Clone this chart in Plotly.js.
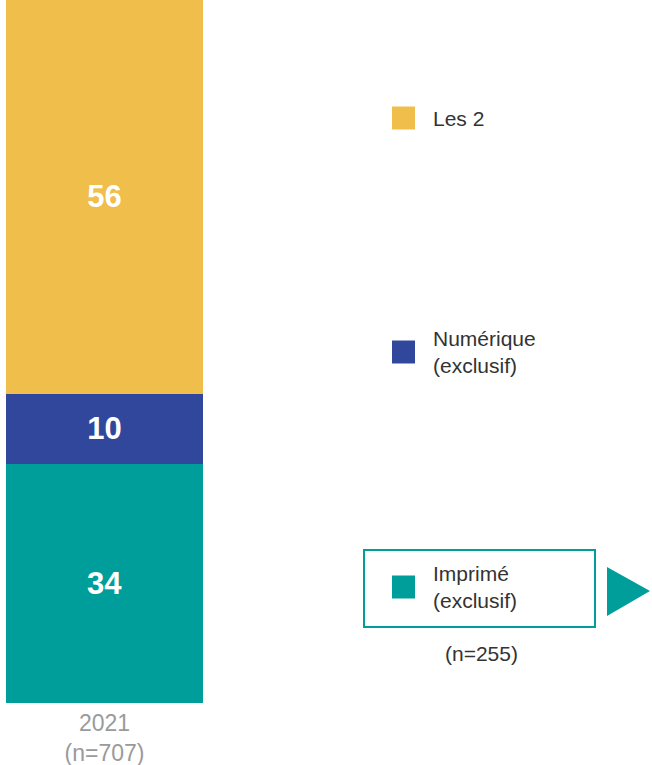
<!DOCTYPE html>
<html>
<head>
<meta charset="utf-8">
<script src="https://cdn.plot.ly/plotly-3.0.1.min.js"></script>
<style>html,body{margin:0;padding:0;background:#fff;}#chart{width:652px;height:765px;}</style>
</head>
<body>
<div id="chart"></div>
<script>
const categories = ['2021'];
const tickLabels = ['2021<br>(n=707)'];
const seriesNames = ['Imprimé (exclusif)', 'Numérique (exclusif)', 'Les 2'];
const imprime = [34];
const numerique = [10];
const lesDeux = [56];
const legendLabels = ['Les 2', 'Numérique<br>(exclusif)', 'Imprimé<br>(exclusif)'];
const subsetNote = '(n=255)';

const colors = {imprime: '#009E9A', numerique: '#30479C', les2: '#F0BE4A'};
const W = 652, H = 765, B = 62, PH = H - B;
const px = x => x / W;
const py = y => (PH - y) / PH;
const FONT = 'Liberation Sans, Arial, sans-serif';

function barTrace(name, vals, color) {
  return {
    type: 'bar', name: name, x: categories, y: vals, width: 1,
    marker: {color: color, line: {width: 0}},
    text: vals.map(String), textposition: 'inside', insidetextanchor: 'middle',
    textfont: {family: FONT, size: 31, color: '#ffffff', weight: 'bold'},
    texttemplate: '<b>%{text}</b>',
    hoverinfo: 'skip', showlegend: false
  };
}

const data = [
  barTrace(seriesNames[0], imprime, colors.imprime),
  barTrace(seriesNames[1], numerique, colors.numerique),
  barTrace(seriesNames[2], lesDeux, colors.les2)
];

const a = -0.5 - 6 / 197;
const b = a + W / 197;

const legendItems = [
  {label: legendLabels[0], color: colors.les2, cy: 118},
  {label: legendLabels[1], color: colors.numerique, cy: 352},
  {label: legendLabels[2], color: colors.imprime, cy: 587}
];

const shapes = [];
const annotations = [];
legendItems.forEach(it => {
  shapes.push({type: 'rect', xref: 'paper', yref: 'paper',
    x0: px(392), x1: px(415), y0: py(it.cy - 11.5), y1: py(it.cy + 11.5),
    fillcolor: it.color, line: {width: 0}});
  annotations.push({xref: 'paper', yref: 'paper', x: px(431), y: py(it.cy),
    xanchor: 'left', yanchor: 'middle', align: 'left', showarrow: false,
    text: it.label, font: {family: FONT, size: 21, color: '#333333'}});
});
shapes.push({type: 'rect', xref: 'paper', yref: 'paper',
  x0: px(364), x1: px(595), y0: py(627), y1: py(550),
  line: {color: colors.imprime, width: 2}, fillcolor: 'rgba(0,0,0,0)'});
shapes.push({type: 'path', xref: 'paper', yref: 'paper',
  path: 'M ' + px(607) + ' ' + py(567) + ' L ' + px(650) + ' ' + py(591) + ' L ' + px(607) + ' ' + py(616) + ' Z',
  fillcolor: colors.imprime, line: {width: 0}});
annotations.push({xref: 'paper', yref: 'paper', x: px(482), y: py(653),
  xanchor: 'center', yanchor: 'middle', showarrow: false, text: subsetNote,
  font: {family: FONT, size: 21, color: '#333333'}});

const layout = {
  width: W, height: H,
  margin: {l: 0, r: 0, t: 0, b: B, pad: 0},
  paper_bgcolor: '#ffffff', plot_bgcolor: '#ffffff',
  barmode: 'stack', showlegend: false,
  xaxis: {type: 'category', range: [a, b], tickvals: categories, ticktext: tickLabels,
    showgrid: false, zeroline: false, showline: false, ticks: '', ticklabelstandoff: 4,
    tickfont: {family: FONT, size: 23, color: '#9a9a9a'}},
  yaxis: {range: [0, 100], visible: false, showgrid: false, zeroline: false},
  shapes: shapes, annotations: annotations
};

Plotly.newPlot('chart', data, layout, {displayModeBar: false, staticPlot: true});
</script>
</body>
</html>
